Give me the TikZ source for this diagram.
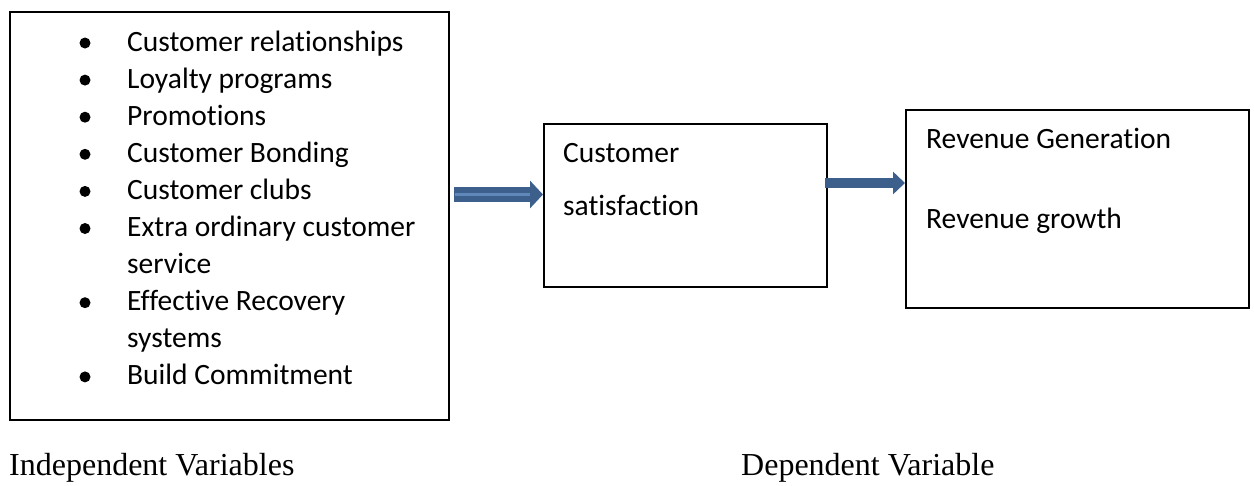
\documentclass[tikz,border=0pt]{standalone}
\usepackage{fontspec}
\setmainfont{Carlito}[Ligatures=NoCommon]
\newfontfamily\seriffont{Liberation Serif}
\usetikzlibrary{arrows.meta}
\definecolor{arrowblue}{RGB}{60,95,140}
\definecolor{stripeblue}{RGB}{95,135,185}
\begin{document}
\begin{tikzpicture}[x=1pt,y=-1pt,
  box/.style={draw=black, line width=1.6pt, inner sep=0pt, anchor=north west},
  txt/.style={anchor=base west, inner sep=0pt, font=\fontsize{29.5}{36}\selectfont},
  lbl/.style={anchor=base west, inner sep=0pt, font=\seriffont\fontsize{32}{38}\selectfont},
  bul/.style={circle, fill=black, inner sep=0pt, minimum size=11pt},
  blockarrowA/.style={arrowblue, line width=15pt, -{Triangle[length=13pt,width=27pt]}},
  blockarrowB/.style={arrowblue, line width=10pt, -{Triangle[length=12pt,width=22pt]}}]
\useasboundingbox (0,0) rectangle (1254,485);
% boxes
\node[box, minimum width=439pt, minimum height=408pt] (b1) at (9,11) {};
\node[box, minimum width=283pt, minimum height=163pt] (b2) at (543,123) {};
\node[box, minimum width=343pt, minimum height=198pt] (b3) at (905,109) {};
% bullet list
\node[txt] (t0) at (127,51.0) {Customer relationships};
\node[txt] (t1) at (127,88.1) {Loyalty programs};
\node[txt] (t2) at (127,125.2) {Promotions};
\node[txt] (t3) at (127,162.3) {Customer Bonding};
\node[txt] (t4) at (127,199.4) {Customer clubs};
\node[txt] (t5) at (127,236.5) {Extra ordinary customer};
\node[txt] (t6) at (127,273.6) {service};
\node[txt] (t7) at (127,310.7) {Effective Recovery};
\node[txt] (t8) at (127,347.8) {systems};
\node[txt] (t9) at (127,384.9) {Build Commitment};
\node[bul] (d0) at (85,43.0) {};
\node[bul] (d1) at (85,80.1) {};
\node[bul] (d2) at (85,117.2) {};
\node[bul] (d3) at (85,154.3) {};
\node[bul] (d4) at (85,191.4) {};
\node[bul] (d5) at (85,228.5) {};
\node[bul] (d7) at (85,302.7) {};
\node[bul] (d9) at (85,376.9) {};
% middle box text
\node[txt] (c1) at (563,162) {Customer};
\node[txt] (c2) at (563,215) {satisfaction};
% right box text
\node[txt] (r1) at (926,148) {Revenue Generation};
\node[txt] (r2) at (926,228) {Revenue growth};
% arrows
\coordinate (a1s) at (454,194.5);
\draw[blockarrowA] (a1s) -- (a1s -| b2.west);
\draw[stripeblue, line width=2.5pt] (a1s) ++(1,0) -- ++(75,0);
\coordinate (a2s) at (825,183);
\draw[blockarrowB] (a2s) -- (a2s -| b3.west);
% labels
\node[lbl] (l1) at (9,475) {Independent Variables};
\node[lbl] (l2) at (741,475) {Dependent Variable};
\end{tikzpicture}
\end{document}
